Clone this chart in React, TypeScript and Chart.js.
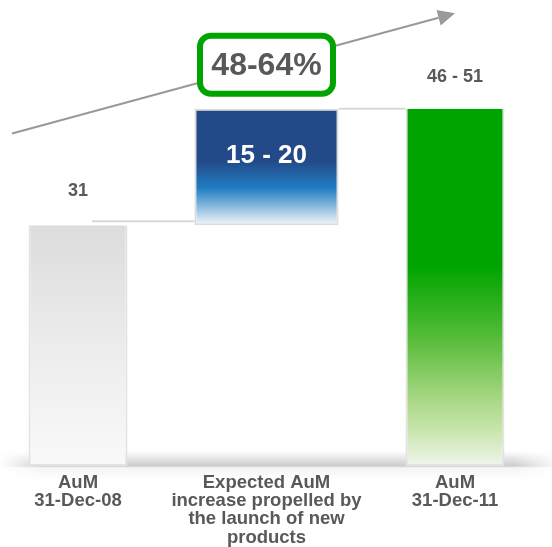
import React, { useEffect, useRef } from 'react';
import { Chart, registerables } from 'chart.js';
Chart.register(...registerables);

// ---- data ----
const categories: string[][] = [
  ['AuM', '31-Dec-08'],
  ['Expected AuM', 'increase propelled by', 'the launch of new', 'products'],
  ['AuM', '31-Dec-11'],
];
const aumValues: (number | null)[] = [31, null, 46];
const increaseRange: ([number, number] | null)[] = [null, [31, 46], null];
const valueLabels: string[] = ['31', '15 - 20', '46 - 51'];
const growthLabel = '48-64%';
const arrowFrom = { x: -0.35, y: 42.8 };
const arrowTo = { x: 2.0, y: 58.3 };

const FONT = 'Arial, "Liberation Sans", Helvetica, sans-serif';
const TEXT = '#595959';

function gradFor(chart: any, idx: number) {
  const y = chart.scales && chart.scales.y;
  const ctx = chart.ctx;
  const fallback = idx === 0 ? '#e6e6e6' : idx === 1 ? '#234a88' : '#00a400';
  if (!y) return fallback;
  let top: number;
  let bot: number;
  if (idx === 1) {
    const r = increaseRange[1] as [number, number];
    top = y.getPixelForValue(r[1]);
    bot = y.getPixelForValue(r[0]);
  } else {
    top = y.getPixelForValue(aumValues[idx] as number);
    bot = y.getPixelForValue(0);
  }
  if (!isFinite(top) || !isFinite(bot) || top === bot) return fallback;
  const g = ctx.createLinearGradient(0, top, 0, bot);
  if (idx === 0) {
    g.addColorStop(0, '#dcdcdc');
    g.addColorStop(0.5, '#ececec');
    g.addColorStop(1, '#f9f9f9');
  } else if (idx === 1) {
    g.addColorStop(0, '#234a88');
    g.addColorStop(0.45, '#234a88');
    g.addColorStop(0.68, '#1f7dc3');
    g.addColorStop(1, '#f4f7fb');
  } else {
    g.addColorStop(0, '#00a400');
    g.addColorStop(0.44, '#00a400');
    g.addColorStop(0.64, '#55bc38');
    g.addColorStop(0.82, '#abd887');
    g.addColorStop(0.9, '#c8e5ae');
    g.addColorStop(1, '#f0f5ec');
  }
  return g;
}

const decor = {
  id: 'decor',
  beforeDatasetsDraw(chart: any) {
    const { ctx, scales } = chart;
    const y = scales.y;
    const base = y.getPixelForValue(0);
    const W = chart.width;
    const off = document.createElement('canvas');
    off.width = W;
    off.height = 30;
    const o = off.getContext('2d')!;
    const vg = o.createLinearGradient(0, 0, 0, 30);
    vg.addColorStop(0, 'rgba(0,0,0,0)');
    vg.addColorStop(0.5, 'rgba(0,0,0,0.2)');
    vg.addColorStop(0.56, 'rgba(0,0,0,0.04)');
    vg.addColorStop(1, 'rgba(0,0,0,0)');
    o.fillStyle = vg;
    o.fillRect(0, 0, W, 30);
    o.globalCompositeOperation = 'destination-in';
    const hg = o.createLinearGradient(0, 0, W, 0);
    hg.addColorStop(0, 'rgba(0,0,0,0)');
    hg.addColorStop(0.08, 'rgba(0,0,0,1)');
    hg.addColorStop(0.93, 'rgba(0,0,0,1)');
    hg.addColorStop(1, 'rgba(0,0,0,0.2)');
    o.fillStyle = hg;
    o.fillRect(0, 0, W, 30);
    ctx.drawImage(off, 0, base - 15);
  },
  afterDatasetsDraw(chart: any) {
    const { ctx, scales } = chart;
    const x = scales.x;
    const y = scales.y;
    const a = chart.getDatasetMeta(0).data;
    const b = chart.getDatasetMeta(1).data;
    const bar1 = a[0];
    const bar2 = b[1];
    const bar3 = a[2];
    if (!bar1 || !bar2 || !bar3) return;
    ctx.save();
    ctx.strokeStyle = '#d9d9d9';
    ctx.lineWidth = 2;
    ctx.beginPath();
    const c1 = y.getPixelForValue(aumValues[0] as number) - 4;
    ctx.moveTo(bar1.x + 14, c1);
    ctx.lineTo(bar2.x - bar2.width / 2, c1);
    const c2 = y.getPixelForValue((increaseRange[1] as number[])[1]);
    ctx.moveTo(bar2.x + bar2.width / 2, c2);
    ctx.lineTo(bar3.x - bar3.width / 2, c2);
    ctx.stroke();

    const x0 = x.getPixelForValue(arrowFrom.x);
    const y0 = y.getPixelForValue(arrowFrom.y);
    const x1 = x.getPixelForValue(arrowTo.x);
    const y1 = y.getPixelForValue(arrowTo.y);
    const ang = Math.atan2(y1 - y0, x1 - x0);
    const hl = 17;
    const hw = 8;
    ctx.strokeStyle = '#999999';
    ctx.fillStyle = '#999999';
    ctx.lineWidth = 2;
    ctx.beginPath();
    ctx.moveTo(x0, y0);
    ctx.lineTo(x1 - Math.cos(ang) * hl, y1 - Math.sin(ang) * hl);
    ctx.stroke();
    ctx.beginPath();
    ctx.moveTo(x1, y1);
    const bx = x1 - Math.cos(ang) * hl;
    const by = y1 - Math.sin(ang) * hl;
    ctx.lineTo(bx + Math.sin(ang) * hw, by - Math.cos(ang) * hw);
    ctx.lineTo(bx - Math.sin(ang) * hw, by + Math.cos(ang) * hw);
    ctx.closePath();
    ctx.fill();

    ctx.textAlign = 'center';
    ctx.textBaseline = 'middle';
    ctx.fillStyle = TEXT;
    ctx.font = `bold 18px ${FONT}`;
    ctx.fillText(valueLabels[0], bar1.x, bar1.y - 34);
    ctx.fillText(valueLabels[2], bar3.x, bar3.y - 32);
    ctx.fillStyle = '#ffffff';
    ctx.font = `bold 26px ${FONT}`;
    ctx.fillText(valueLabels[1], bar2.x, bar2.y + 47);

    const cx = bar2.x;
    const cy = bar2.y - 44;
    const bw = 133;
    const bh = 58;
    const r = 11;
    const lx = cx - bw / 2;
    const ty = cy - bh / 2;
    ctx.fillStyle = '#ffffff';
    ctx.strokeStyle = '#00a400';
    ctx.lineWidth = 6;
    ctx.beginPath();
    ctx.roundRect(lx, ty, bw, bh, r);
    ctx.fill();
    ctx.stroke();
    ctx.fillStyle = TEXT;
    ctx.font = `bold 32px ${FONT}`;
    ctx.fillText(growthLabel, cx, cy + 1);
    ctx.restore();
  },
};

export default function App() {
  const ref = useRef<HTMLCanvasElement>(null);
  useEffect(() => {
    document.body.style.margin = '0';
    const chart = new Chart(ref.current!, {
      type: 'bar',
      data: {
        labels: categories,
        datasets: [
          {
            data: aumValues as any,
            backgroundColor: (c: any) => gradFor(c.chart, c.dataIndex),
            borderColor: '#e2e2e2',
            borderWidth: { top: 0, left: 2, right: 2, bottom: 2 } as any,
            borderSkipped: false,
            barPercentage: 0.525,
            categoryPercentage: 1,
            grouped: false,
            clip: false as any,
          },
          {
            data: increaseRange as any,
            backgroundColor: (c: any) => gradFor(c.chart, 1),
            borderColor: '#dcdcdc',
            borderWidth: 2,
            borderSkipped: false,
            barPercentage: 0.765,
            categoryPercentage: 1,
            grouped: false,
            clip: false as any,
          },
        ],
      },
      plugins: [decor],
      options: {
        animation: false,
        responsive: true,
        maintainAspectRatio: false,
        layout: { padding: { left: 78, right: 97, top: 0, bottom: 0 } },
        plugins: { legend: { display: false }, tooltip: { enabled: false } },
        scales: {
          x: {
            type: 'category',
            offset: false,
            grid: { display: false, drawTicks: false },
            border: { display: false },
            afterFit: (s: any) => {
              s.height = 81;
            },
            ticks: {
              padding: 8,
              maxRotation: 0,
              autoSkip: false,
              color: TEXT,
              font: { family: FONT, size: 18.5, weight: 'bold', lineHeight: 0.98 },
            },
          },
          y: {
            display: false,
            min: 0,
            max: 60,
          },
        },
      },
    });
    return () => chart.destroy();
  }, []);
  return (
    <div style={{ position: 'relative', width: 552, height: 547 }}>
      <canvas ref={ref} />
    </div>
  );
}
